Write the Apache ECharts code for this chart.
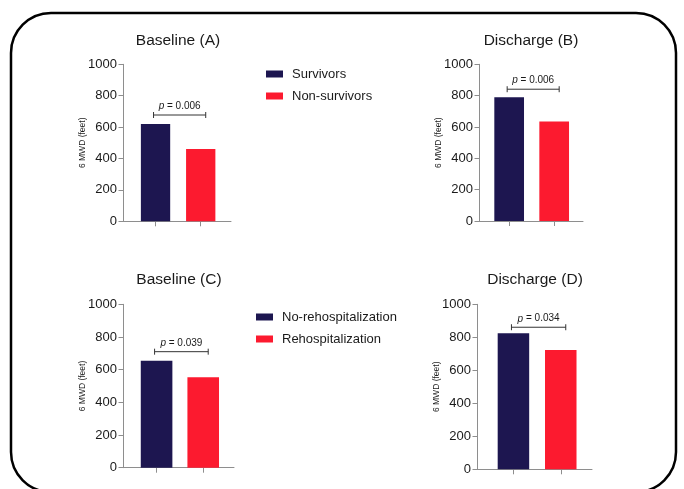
<!DOCTYPE html>
<html>
<head>
<meta charset="utf-8">
<script src="https://cdn.jsdelivr.net/npm/echarts@6/dist/echarts.min.js"></script>
<style>
html,body{margin:0;padding:0;background:#fff;}
#chart{width:684px;height:489px;}
</style>
</head>
<body>
<div id="chart"></div>
<script>
// ---- data ----
const groupsTop = ['Survivors', 'Non-survivors'];
const groupsBottom = ['No-rehospitalization', 'Rehospitalization'];
const panelTitles = ['Baseline (A)', 'Discharge (B)', 'Baseline (C)', 'Discharge (D)'];
const valuesA = [620, 460];
const valuesB = [790, 635];
const valuesC = [655, 553];
const valuesD = [825, 723];
const pValues = ['0.006', '0.006', '0.039', '0.034'];
const bracketLevels = [677, 841, 710, 861];
const yAxisName = '6 MWD (feet)';
const yMin = 0, yMax = 1000, yStep = 200;

// ---- layout / style ----
const NAVY = '#1d1650';
const RED = '#fc1a2f';
const FONT = '"Liberation Sans", Arial, Helvetica, sans-serif';
const TEXT = '#1a1a1a';
const AXIS = '#8e8e8e';

const panels = [
  {values: valuesA, groups: groupsTop, grid: {left: 123, top: 64.3, width: 108, height: 157}, xr: [-0.72, 1.67], bw: 29.3, title: [178, 40.5]},
  {values: valuesB, groups: groupsTop, grid: {left: 479, top: 64.3, width: 104, height: 156.7}, xr: [-0.67, 1.64], bw: 29.7, title: [531, 40.5]},
  {values: valuesC, groups: groupsBottom, grid: {left: 123, top: 304.3, width: 111, height: 163.4}, xr: [-0.72, 1.66], bw: 31.6, title: [179, 279.5]},
  {values: valuesD, groups: groupsBottom, grid: {left: 477, top: 304.3, width: 115, height: 165}, xr: [-0.77, 1.66], bw: 31.5, title: [535, 279.5]}
];
const colors = [NAVY, RED];

const grids = [], xAxes = [], yAxes = [], series = [], graphics = [];

panels.forEach((p, k) => {
  grids.push(Object.assign({containLabel: false}, p.grid));
  xAxes.push({
    type: 'value', gridIndex: k, min: p.xr[0], max: p.xr[1],
    axisLine: {show: true, onZero: false, lineStyle: {color: AXIS, width: 1}},
    axisTick: {show: true, length: 5, customValues: p.groups.map((g, i) => i), lineStyle: {color: AXIS}},
    axisLabel: {show: false},
    splitLine: {show: false}
  });
  yAxes.push({
    type: 'value', gridIndex: k, min: yMin, max: yMax, interval: yStep,
    name: yAxisName, nameLocation: 'middle', nameGap: 36, nameRotate: 90, nameMoveOverlap: false,
    nameTextStyle: {fontSize: 8.5, color: TEXT, fontFamily: FONT},
    axisLine: {show: true, onZero: false, lineStyle: {color: AXIS, width: 1}},
    axisTick: {show: true, length: 4.5, lineStyle: {color: AXIS}},
    axisLabel: {fontSize: 13, color: TEXT, fontFamily: FONT, margin: 6, formatter: v => String(v)},
    splitLine: {show: false}
  });
  p.groups.forEach((g, i) => {
    series.push({
      type: 'bar', name: g, xAxisIndex: k, yAxisIndex: k,
      data: [[i, p.values[i]]], barWidth: p.bw, barGap: '-100%',
      itemStyle: {color: colors[i]}, silent: true
    });
  });
  series.push({
    type: 'custom', xAxisIndex: k, yAxisIndex: k, silent: true,
    data: [[0, p.groups.length - 1, bracketLevels[k]]],
    renderItem: function (params, api) {
      const a = api.coord([api.value(0), api.value(2)]);
      const b = api.coord([api.value(1), api.value(2)]);
      const x0 = a[0] - 2, x1 = b[0] + 5, y = a[1];
      const st = {stroke: '#333', lineWidth: 1, fill: null};
      return {
        type: 'group',
        children: [
          {type: 'line', shape: {x1: x0, y1: y, x2: x1, y2: y}, style: st},
          {type: 'line', shape: {x1: x0, y1: y - 3, x2: x0, y2: y + 3}, style: st},
          {type: 'line', shape: {x1: x1, y1: y - 3, x2: x1, y2: y + 3}, style: st},
          {type: 'text', x: (x0 + x1) / 2, y: y - 3.5, style: {
            text: '{i|p} = ' + pValues[k], align: 'center', verticalAlign: 'bottom',
            fontSize: 10, fill: TEXT, fontFamily: FONT,
            rich: {i: {fontStyle: 'italic', fontSize: 10, fontFamily: FONT, fill: TEXT}}
          }}
        ]
      };
    }
  });
  graphics.push({
    type: 'text', x: p.title[0], y: p.title[1], silent: true,
    style: {text: panelTitles[k], fontSize: 15.5, fill: TEXT, fontFamily: FONT, align: 'center', verticalAlign: 'middle'}
  });
});

graphics.push({
  type: 'rect', silent: true, z: 100,
  shape: {x: 11, y: 13, width: 665, height: 479, r: 40},
  style: {fill: null, stroke: '#000', lineWidth: 2.5}
});

const legendCommon = {
  orient: 'vertical', icon: 'rect', itemWidth: 17, itemHeight: 7, itemGap: 9, padding: 0,
  selectedMode: false,
  textStyle: {fontSize: 13, color: TEXT, fontFamily: FONT, padding: [0, 0, 0, 4]}
};

const option = {
  animation: false,
  backgroundColor: '#fff',
  grid: grids,
  xAxis: xAxes,
  yAxis: yAxes,
  legend: [
    Object.assign({}, legendCommon, {data: groupsTop, left: 266, top: 67.5}),
    Object.assign({}, legendCommon, {data: groupsBottom, left: 256, top: 310.5})
  ],
  graphic: graphics,
  series: series
};

const chart = echarts.init(document.getElementById('chart'), null, {renderer: 'canvas'});
chart.setOption(option);
</script>
</body>
</html>
